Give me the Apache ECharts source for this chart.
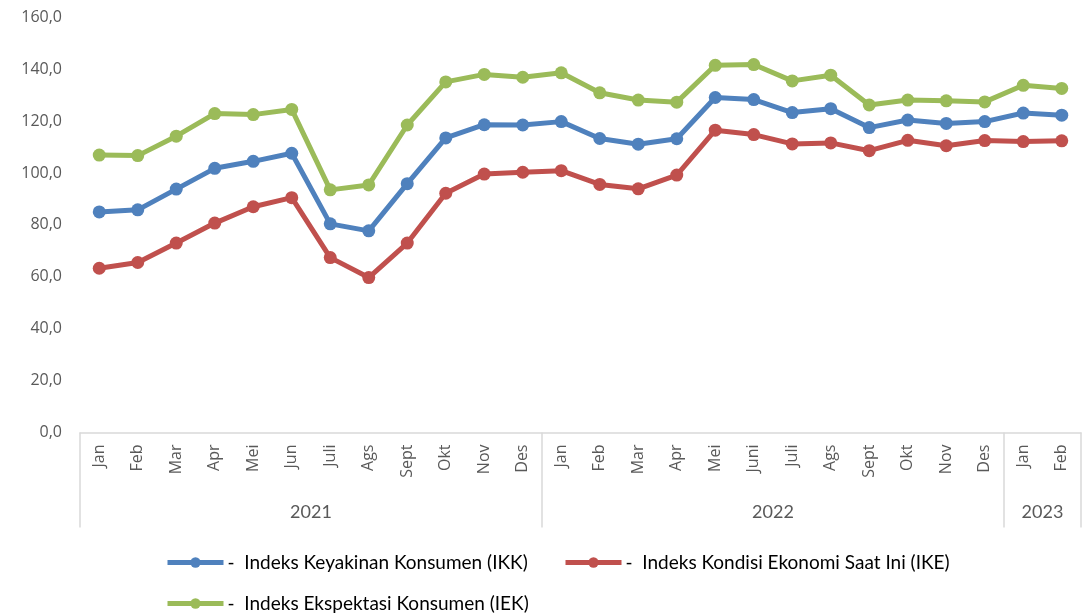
<!DOCTYPE html>
<html>
<head>
<meta charset="utf-8">
<script src="https://cdn.jsdelivr.net/npm/echarts@6/dist/echarts.min.js"></script>
<style>
html,body{margin:0;padding:0;background:#fff;}
#chart{width:1084px;height:614px;}
</style>
</head>
<body>
<div id="chart"></div>
<script>
var months = ['Jan','Feb','Mar','Apr','Mei','Jun','Juli','Ags','Sept','Okt','Nov','Des',
              'Jan','Feb','Mar','Apr','Mei','Juni','Juli','Ags','Sept','Okt','Nov','Des',
              'Jan','Feb'];
var years = ['2021','2022','2023'];
var yearCenters = [6, 18, 25];
var yearBounds = [0, 12, 24, 26];
var ikk = [85.0, 85.8, 93.8, 101.8, 104.5, 107.6, 80.4, 77.7, 95.9, 113.5, 118.6, 118.5,
           119.8, 113.3, 111.1, 113.2, 129.1, 128.3, 123.3, 124.8, 117.5, 120.4, 119.1, 119.8,
           123.1, 122.3];
var ike = [63.3, 65.5, 73.0, 80.7, 87.0, 90.5, 67.4, 59.7, 73.0, 92.2, 99.6, 100.3,
           100.9, 95.6, 93.9, 99.2, 116.5, 114.8, 111.2, 111.6, 108.6, 112.6, 110.5, 112.5,
           112.1, 112.4];
var iek = [106.9, 106.7, 114.2, 122.9, 122.5, 124.5, 93.5, 95.4, 118.5, 135.1, 138.0, 136.9,
           138.6, 130.9, 128.1, 127.3, 141.5, 141.8, 135.5, 137.7, 126.2, 128.1, 127.8, 127.4,
           133.8, 132.6];
var names = ['Indeks Keyakinan Konsumen (IKK)', 'Indeks Kondisi Ekonomi Saat Ini (IKE)', 'Indeks Ekspektasi Konsumen (IEK)'];
var colors = ['#4F81BD', '#C0504D', '#9BBB59'];

var chart = echarts.init(document.getElementById('chart'), null, {renderer: 'canvas'});

function mkSeries(name, data, color) {
  return {
    name: name, type: 'line', data: data,
    xAxisIndex: 0, yAxisIndex: 0,
    symbol: 'circle', symbolSize: 13,
    lineStyle: {color: color, width: 5},
    itemStyle: {color: color},
    animation: false
  };
}
function mkLegend(name, left, top) {
  return {
    data: [name], left: left, top: top, padding: 0,
    itemWidth: 56, itemHeight: 13, itemGap: 0,
    lineStyle: {width: 5},
    formatter: function (n) { return '-  ' + n; },
    textStyle: {fontFamily: 'Lato', fontSize: 19, color: '#000', padding: [0, 0, 0, -1]}
  };
}

var option = {
  backgroundColor: '#fff',
  grid: {left: 80, right: 3, top: 17.3, bottom: 181.5},
  legend: [
    mkLegend(names[0], 165, 553),
    mkLegend(names[1], 563, 553),
    mkLegend(names[2], 165, 594)
  ],
  xAxis: [
    {
      type: 'category', data: months, boundaryGap: true, position: 'bottom',
      axisLine: {show: true, lineStyle: {color: '#D9D9D9', width: 1.5}},
      axisTick: {show: false},
      axisLabel: {rotate: 90, margin: 12, interval: 0, color: '#595959',
                  fontFamily: 'Open Sans', fontSize: 16}
    },
    {
      type: 'value', min: 0, max: 26, position: 'bottom',
      axisLine: {show: false},
      splitLine: {show: false},
      axisTick: {show: true, customValues: yearBounds, length: 95,
                 lineStyle: {color: '#D9D9D9', width: 1.5}},
      axisLabel: {show: true, customValues: yearCenters, margin: 71,
                  color: '#595959', fontFamily: 'Lato', fontSize: 18,
                  formatter: function (v) { return years[yearCenters.indexOf(v)]; }}
    }
  ],
  yAxis: {
    type: 'value', min: 0, max: 160, interval: 20,
    axisLine: {show: false}, axisTick: {show: false},
    splitLine: {show: false},
    axisLabel: {margin: 18, color: '#595959', fontFamily: 'Open Sans', fontSize: 16,
                formatter: function (v) { return v.toFixed(1).replace('.', ','); }}
  },
  series: [
    mkSeries(names[0], ikk, colors[0]),
    mkSeries(names[1], ike, colors[1]),
    mkSeries(names[2], iek, colors[2])
  ]
};
chart.setOption(option);
</script>
</body>
</html>
